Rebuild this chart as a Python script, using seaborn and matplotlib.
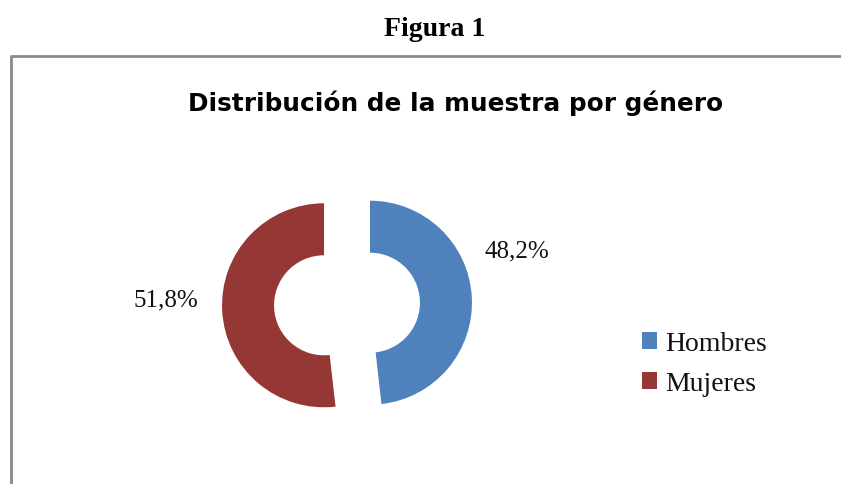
import matplotlib
matplotlib.use("Agg")
import matplotlib.pyplot as plt
from matplotlib.lines import Line2D
import seaborn as sns

# Data
LABELS = ["Hombres", "Mujeres"]
VALUES = [48.2, 51.8]
COLORS = ["#4F81BD", "#953735"]

TITLE = "Distribución de la muestra por género"
FIG_TITLE = "Figura 1"

W, H = 841, 485

sns.set_theme(style="white")
plt.rcParams["font.family"] = ["Liberation Serif", "DejaVu Serif"]
plt.rcParams["text.color"] = "#111111"

fig = plt.figure(figsize=(W / 100, H / 100), dpi=100)
ax = fig.add_axes([0, 0, 1, 1])

# Chart frame (top and left edges only, as in the crop)
frame_kw = dict(color="#8a8a8a", lw=2.0, solid_capstyle="butt")
fig.add_artist(Line2D([11 / W, 1], [1 - 56.5 / H, 1 - 56.5 / H],
                      transform=fig.transFigure, **frame_kw))
fig.add_artist(Line2D([11 / W, 11 / W], [0, 1 - 55.5 / H],
                      transform=fig.transFigure, **frame_kw))

fig.text(435 / W, 1 - 29 / H, FIG_TITLE, ha="center", va="center",
         fontsize=20, fontweight="bold", color="black")
fig.text(456 / W, 1 - 103 / H, TITLE, ha="center", va="center",
         fontsize=17.8, fontweight="bold", family="DejaVu Sans", color="black")

# Exploded doughnut
radius = 102
wedges, texts, autotexts = ax.pie(
    VALUES,
    colors=COLORS,
    startangle=90,
    counterclock=False,
    radius=radius,
    center=(347, H - 305),
    explode=[23, 23],
    wedgeprops=dict(width=52, edgecolor="none"),
    autopct=lambda p: f"{p:.1f}%".replace(".", ","),
    pctdistance=1.52,
    textprops=dict(fontsize=18),
    frame=True,
)
ax.set_xlim(0, W)
ax.set_ylim(0, H)
ax.set_aspect("auto")
ax.axis("off")

# Excel nudged the labels off the wedge mid-lines
x0, y0 = autotexts[0].get_position()
autotexts[0].set_position((x0 - 8, y0 + 43))
x1, y1 = autotexts[1].get_position()
autotexts[1].set_position((x1 - 3, y1 + 15))

leg = ax.legend(
    wedges, LABELS,
    loc="upper left",
    bbox_to_anchor=(617 / W, 1 - 307 / H),
    bbox_transform=fig.transFigure,
    frameon=False,
    fontsize=20,
    handlelength=0.55,
    handleheight=0.55,
    handletextpad=0.3,
    labelspacing=0.55,
)

fig.savefig("out.png", dpi=100, facecolor="white")
